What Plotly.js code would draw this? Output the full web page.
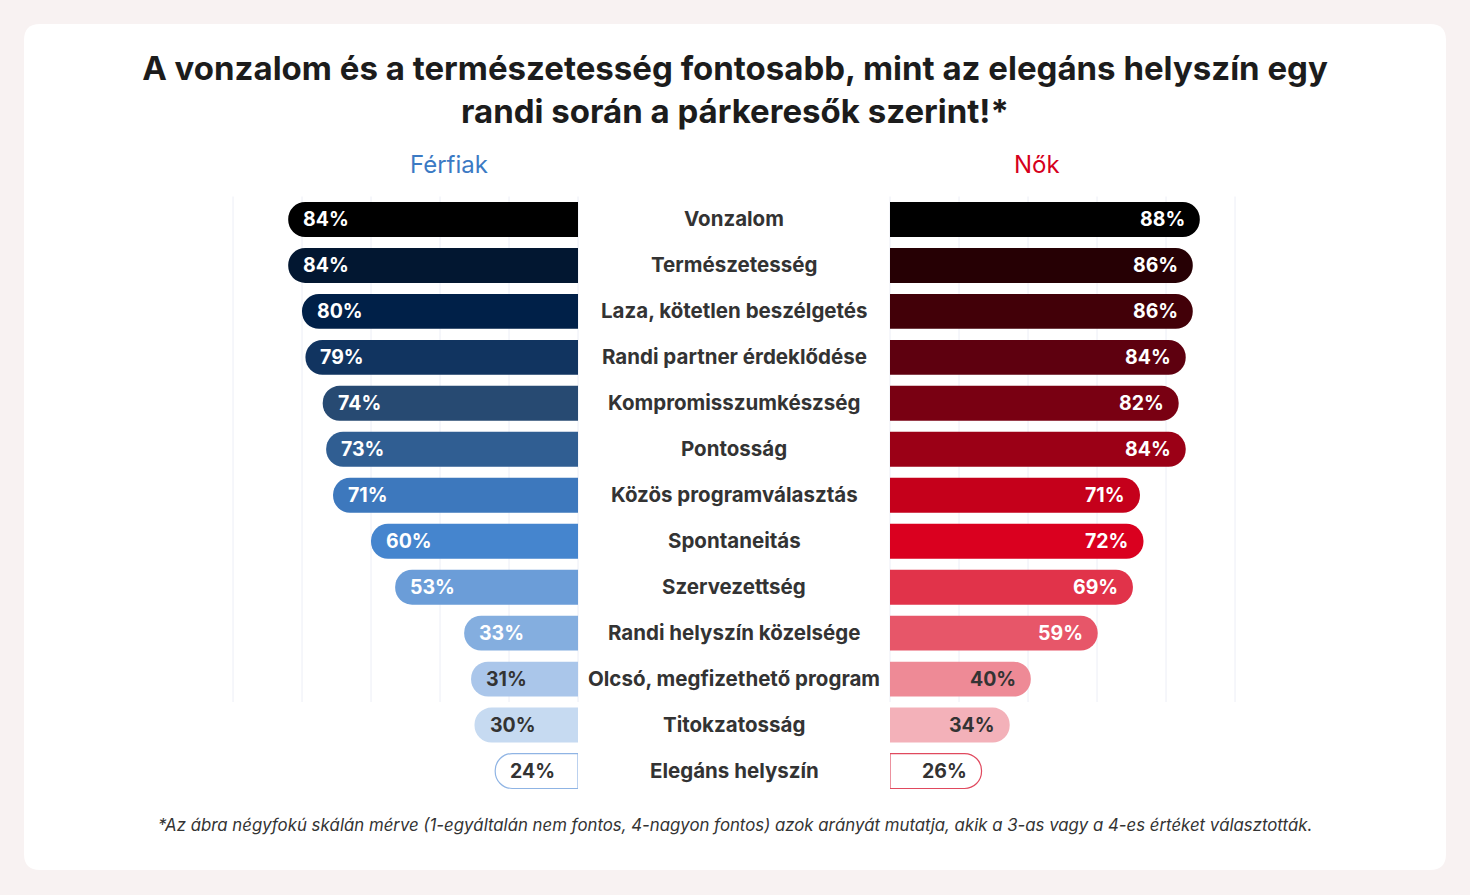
<!DOCTYPE html>
<html>
<head>
<meta charset="utf-8">
<script src="https://cdn.plot.ly/plotly-3.0.1.min.js"></script>
<style>
  html, body { margin: 0; padding: 0; background: #f8f2f2; }
  #chart { width: 1470px; height: 895px; }
</style>
</head>
<body>
<div id="chart"></div>
<script>
// Survey items, top to bottom
const categories = [
  'Vonzalom',
  'Természetesség',
  'Laza, kötetlen beszélgetés',
  'Randi partner érdeklődése',
  'Kompromisszumkészség',
  'Pontosság',
  'Közös programválasztás',
  'Spontaneitás',
  'Szervezettség',
  'Randi helyszín közelsége',
  'Olcsó, megfizethető program',
  'Titokzatosság',
  'Elegáns helyszín'
];

// Share of respondents choosing 3 or 4 (%)
const men   = [84, 84, 80, 79, 74, 73, 71, 60, 53, 33, 31, 30, 24];
const women = [88, 86, 86, 84, 82, 84, 71, 72, 69, 59, 40, 34, 26];

// Bar palettes (dark -> light)
const menColors = ['#000000', '#021731', '#002048', '#113460', '#274a72', '#305e92',
  '#3d78bd', '#4585ce', '#6b9dd8', '#84aedf', '#aac6ea', '#c6daf1', '#ffffff'];
const womenColors = ['#000000', '#260004', '#420008', '#5e000f', '#790012', '#9b0016',
  '#c5001b', '#da001f', '#e1334a', '#e75669', '#ee8a96', '#f3b1b9', '#ffffff'];
const menLine = menColors.map((c, i) => i === menColors.length - 1 ? '#8fb4e4' : c);
const womenLine = womenColors.map((c, i) => i === womenColors.length - 1 ? '#e0495e' : c);
const lineWidths = categories.map((c, i) => i === categories.length - 1 ? 1.2 : 0);
const labelColor = (i) => i >= categories.length - 3 ? '#333333' : '#ffffff';

const W = 1470, H = 895;
const px = (v) => v / W;
const py = (v) => 1 - v / H;

const FONT = 'Inter, "Noto Sans", sans-serif';

const traces = [
  {
    type: 'bar', orientation: 'h',
    x: men, y: categories, xaxis: 'x', yaxis: 'y',
    marker: { color: menColors, cornerradius: 17, line: { color: menLine, width: lineWidths } },
    hoverinfo: 'skip', showlegend: false
  },
  {
    type: 'bar', orientation: 'h',
    x: women, y: categories, xaxis: 'x2', yaxis: 'y',
    marker: { color: womenColors, cornerradius: 17, line: { color: womenLine, width: lineWidths } },
    hoverinfo: 'skip', showlegend: false
  }
];

const annotations = [];
// Value labels just inside the rounded ends
men.forEach((v, i) => annotations.push({
  xref: 'x', yref: 'y', x: v, y: categories[i], xanchor: 'left', xshift: 13,
  text: v + '%', showarrow: false,
  font: { family: FONT, size: 19.5, weight: 700, color: labelColor(i) }
}));
women.forEach((v, i) => annotations.push({
  xref: 'x2', yref: 'y', x: v, y: categories[i], xanchor: 'right', xshift: -13,
  text: v + '%', showarrow: false,
  font: { family: FONT, size: 19.5, weight: 700, color: labelColor(i) }
}));
// Item names in the middle column
categories.forEach((c) => annotations.push({
  xref: 'paper', yref: 'y', x: px(734), y: c, xanchor: 'center', yshift: 1,
  text: c, showarrow: false,
  font: { family: FONT, size: 20.5, weight: 700, color: '#333333' }
}));
// Panel headings
annotations.push({
  xref: 'paper', yref: 'paper', x: px(449), y: py(165), xanchor: 'center', yanchor: 'middle',
  text: 'Férfiak', showarrow: false, font: { family: FONT, size: 24, color: '#3b7ac4' }
});
annotations.push({
  xref: 'paper', yref: 'paper', x: px(1037), y: py(165), xanchor: 'center', yanchor: 'middle',
  text: 'Nők', showarrow: false, font: { family: FONT, size: 24, color: '#d6001c' }
});
// Footnote
annotations.push({
  xref: 'paper', yref: 'paper', x: px(735), y: py(825), xanchor: 'center', yanchor: 'middle',
  text: '*Az ábra négyfokú skálán mérve (1-egyáltalán nem fontos, 4-nagyon fontos) azok arányát mutatja, akik a 3-as vagy a 4-es értéket választották.',
  showarrow: false, font: { family: FONT, size: 16.8, style: 'italic', color: '#333333' }
});

// White card with rounded corners
const cx0 = px(24), cx1 = px(1446), cy0 = py(870), cy1 = py(24);
const rx = 16 / W, ry = 16 / H;
const cardPath = `M ${cx0 + rx} ${cy1} L ${cx1 - rx} ${cy1} Q ${cx1} ${cy1} ${cx1} ${cy1 - ry} ` +
  `L ${cx1} ${cy0 + ry} Q ${cx1} ${cy0} ${cx1 - rx} ${cy0} L ${cx0 + rx} ${cy0} ` +
  `Q ${cx0} ${cy0} ${cx0} ${cy0 + ry} L ${cx0} ${cy1 - ry} Q ${cx0} ${cy1} ${cx0 + rx} ${cy1} Z`;

const shapes = [
  { type: 'path', xref: 'paper', yref: 'paper', path: cardPath, fillcolor: '#ffffff',
    line: { width: 0 }, layer: 'below' }
];
// Vertical guides: six evenly spaced lines per panel, stopping above the last two rows
const guideSteps = [0, 1, 2, 3, 4, 5];
['x domain', 'x2 domain'].forEach((ax) => guideSteps.forEach((k) => shapes.push({
  type: 'line', xref: ax, yref: 'y', x0: k / 5, x1: k / 5, y0: -0.5, y1: categories.length - 2.5,
  line: { color: '#eceef6', width: 1 }, layer: 'below'
})));

const layout = {
  width: W, height: H,
  margin: { l: 0, r: 0, t: 0, b: 0 },
  paper_bgcolor: '#f8f2f2',
  plot_bgcolor: 'rgba(0,0,0,0)',
  bargap: 0.24,
  title: {
    text: 'A vonzalom és a természetesség fontosabb, mint az elegáns helyszín egy<br>randi során a párkeresők szerint!*',
    x: 0.5, xanchor: 'center', xref: 'paper',
    y: py(80), yanchor: 'top', yref: 'paper',
    font: { family: FONT, size: 33, weight: 700, color: '#1c1c1c' }
  },
  xaxis: {
    domain: [px(233), px(578)], range: [100, 0],
    showgrid: false, zeroline: false, showticklabels: false, fixedrange: true
  },
  xaxis2: {
    domain: [px(890), px(1235)], range: [0, 98],
    showgrid: false, zeroline: false, showticklabels: false, fixedrange: true
  },
  yaxis: {
    type: 'category', categoryarray: categories, categoryorder: 'array',
    autorange: 'reversed',
    domain: [py(794), py(196)],
    showgrid: false, zeroline: false, showticklabels: false, fixedrange: true
  },
  shapes: shapes,
  annotations: annotations
};

Plotly.newPlot('chart', traces, layout, { displayModeBar: false, staticPlot: true });
</script>
</body>
</html>
